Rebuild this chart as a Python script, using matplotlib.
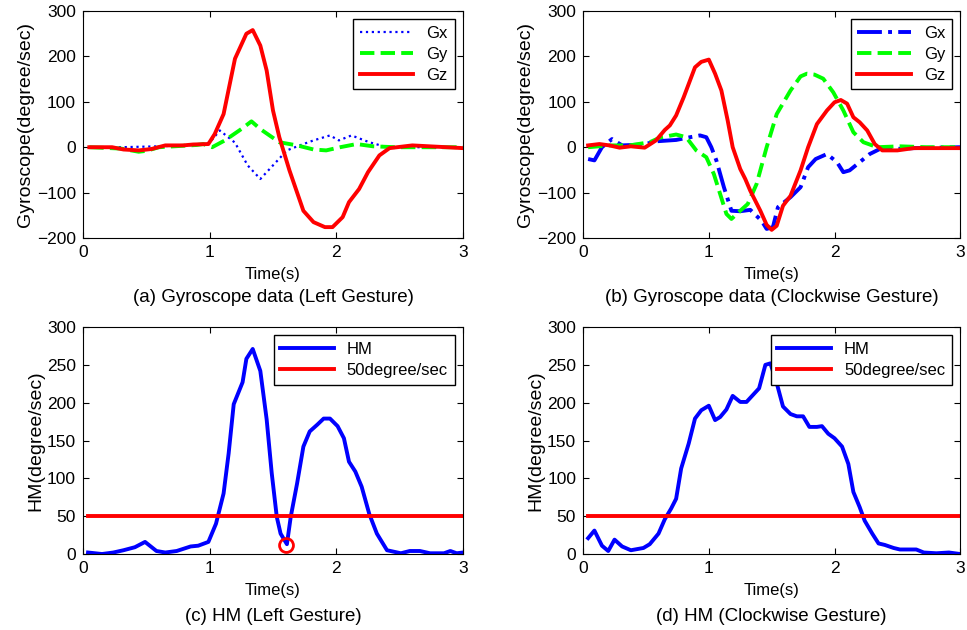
import matplotlib
matplotlib.use('Agg')
import matplotlib.pyplot as plt

plt.rcParams['font.family'] = ['Liberation Sans', 'DejaVu Sans']

# (a) left gesture, gyroscope
a_gx_t = [0.05, 0.3, 0.6, 0.9, 1.0, 1.08, 1.2, 1.3, 1.40, 1.5, 1.61, 1.72, 1.82, 1.95, 2.02, 2.12, 2.26, 2.4, 2.6, 3.0]
a_gx = [0, 0, 2, 5, 10, 37, 10, -40, -70, -40, -7, 5, 15, 26, 15, 26, 11, 0, 0, 0]
a_gy_t = [0.05, 0.3, 0.44, 0.5, 0.6, 0.9, 0.95, 1.02, 1.12, 1.25, 1.33, 1.40, 1.55, 1.69, 1.82, 1.92, 2.03, 2.16, 2.29, 2.47, 3.0]
a_gy = [0, -3, -10, -8, 0, 5, 7, 0, 15, 40, 57, 40, 11, 4, -5, -7, 0, 7, 2, 0, 0]
a_gz_t = [0.05, 0.23, 0.32, 0.44, 0.54, 0.65, 0.79, 0.87, 0.99, 1.04, 1.11, 1.2, 1.29, 1.34, 1.40, 1.45, 1.50, 1.55, 1.63,
          1.74, 1.82, 1.91, 1.97, 2.05, 2.10, 2.18, 2.25, 2.34, 2.42, 2.60, 2.87, 3.0]
a_gz = [0, 0, -5, -7, -4, 4, 4, 6, 7, 29, 73, 195, 250, 258, 224, 169, 81, 22, -51,
        -140, -165, -176, -176, -154, -121, -92, -55, -18, -2, 4, 0, -2]

# (b) clockwise gesture, gyroscope
b_gx_t = [0.04, 0.09, 0.15, 0.23, 0.31, 0.48, 0.58, 0.74, 0.85, 0.93, 0.98, 1.02, 1.06, 1.12, 1.18, 1.25, 1.33, 1.42,
          1.46, 1.51, 1.55, 1.65, 1.73, 1.79, 1.85, 1.94, 2.02, 2.07, 2.12, 2.20, 2.28, 2.36, 2.47, 2.63, 3.0]
b_gx = [-26, -29, 0, 18, 4, 6, 13, 16, 22, 26, 22, 0, -29, -88, -140, -141, -138, -162,
        -180, -176, -132, -110, -88, -44, -26, -15, -33, -55, -51, -33, -15, -4, -4, -2, 0]
b_gy_t = [0.04, 0.21, 0.37, 0.53, 0.61, 0.74, 0.82, 0.90, 0.98, 1.04, 1.09, 1.14, 1.18, 1.25, 1.31, 1.38, 1.46, 1.54,
          1.65, 1.73, 1.78, 1.84, 1.91, 1.99, 2.07, 2.15, 2.23, 2.34, 2.52, 2.73, 3.0]
b_gy = [0, 4, 4, 11, 21, 28, 22, -7, -22, -59, -103, -147, -158, -140, -125, -81, 0, 73,
        125, 156, 162, 160, 151, 121, 81, 33, 11, 0, 2, 0, 0]
b_gz_t = [0.04, 0.13, 0.21, 0.29, 0.38, 0.49, 0.58, 0.65, 0.69, 0.74, 0.80, 0.89, 0.94, 1.0, 1.05, 1.10, 1.15, 1.19,
          1.25, 1.29, 1.33, 1.41, 1.46, 1.50, 1.54, 1.59, 1.65, 1.73, 1.79, 1.86, 1.94, 2.0, 2.05, 2.10, 2.15,
          2.20, 2.26, 2.32, 2.38, 2.50, 2.63, 3.0]
b_gz = [4, 7, 4, -1, 2, -1, 15, 38, 48, 70, 110, 176, 188, 193, 162, 125, 59, 0,
        -48, -70, -96, -140, -171, -182, -173, -129, -107, -51, 0, 51, 81, 99, 104, 96, 66,
        55, 37, 7, -7, -7, -2, -2]

# (c) left gesture, HM
c_t = [0.04, 0.15, 0.24, 0.32, 0.41, 0.49, 0.58, 0.65, 0.74, 0.85, 0.91, 0.99, 1.05, 1.11, 1.15, 1.19, 1.26, 1.29,
       1.34, 1.40, 1.45, 1.49, 1.53, 1.56, 1.61, 1.64, 1.69, 1.74, 1.79, 1.85, 1.90, 1.95, 2.01, 2.06, 2.10,
       2.15, 2.20, 2.26, 2.32, 2.40, 2.51, 2.58, 2.66, 2.74, 2.85, 2.90, 2.95, 3.0]
c_hm = [2, 0, 2, 5, 9, 16, 4, 2, 4, 10, 11, 16, 40, 80, 133, 198, 227, 258,
        271, 242, 178, 107, 49, 27, 13, 49, 93, 142, 162, 171, 179, 179, 169, 153, 122,
        109, 89, 53, 27, 5, 1, 4, 4, 1, 1, 4, 1, 2]
c_min_t = 1.605
c_min = 12

# (d) clockwise gesture, HM
d_t = [0.04, 0.09, 0.15, 0.20, 0.25, 0.31, 0.38, 0.48, 0.53, 0.60, 0.65, 0.70, 0.74, 0.78, 0.84, 0.89, 0.94, 1.0,
       1.05, 1.09, 1.14, 1.19, 1.25, 1.30, 1.35, 1.40, 1.45, 1.49, 1.54, 1.59, 1.65, 1.70, 1.75, 1.80, 1.86,
       1.90, 1.95, 2.00, 2.06, 2.11, 2.15, 2.20, 2.24, 2.30, 2.35, 2.40, 2.47, 2.52, 2.65, 2.71, 2.81, 2.91, 3.0]
d_hm = [21, 31, 11, 4, 19, 10, 5, 8, 13, 27, 46, 60, 73, 113, 146, 179, 190, 196,
        177, 181, 191, 209, 201, 201, 210, 219, 250, 252, 226, 195, 185, 182, 182, 168, 168,
        169, 159, 153, 142, 119, 82, 62, 44, 27, 14, 12, 8, 6, 6, 2, 1, 2, 0]

threshold = 50
captions = ['(a) Gyroscope data (Left Gesture)', '(b) Gyroscope data (Clockwise Gesture)',
            '(c) HM (Left Gesture)', '(d) HM (Clockwise Gesture)']

fig = plt.figure(figsize=(9.67, 6.3), dpi=100)
pos = [[0.0858, 0.6222, 0.393, 0.3603], [0.603, 0.6222, 0.390, 0.3603],
       [0.0858, 0.1206, 0.393, 0.3603], [0.603, 0.1206, 0.390, 0.3603]]
axes = [fig.add_axes(p) for p in pos]

lw = 2.8
ax = axes[0]
ax.plot(a_gx_t, a_gx, ':', color='blue', lw=1.6, label='Gx')
ax.plot(a_gy_t, a_gy, '--', color='#00ff00', lw=lw, label='Gy')
ax.plot(a_gz_t, a_gz, '-', color='red', lw=lw, label='Gz')

ax = axes[1]
ax.plot(b_gx_t, b_gx, '-.', color='blue', lw=lw, label='Gx')
ax.plot(b_gy_t, b_gy, '--', color='#00ff00', lw=lw, label='Gy')
ax.plot(b_gz_t, b_gz, '-', color='red', lw=lw, label='Gz')

ax = axes[2]
ax.plot(c_t, c_hm, '-', color='blue', lw=lw, label='HM')
ax.plot([c_t[0], c_t[-1]], [threshold, threshold], '-', color='red', lw=lw, label='50degree/sec')
ax.plot(c_min_t, c_min, 'o', mfc='none', mec='red', mew=2, ms=10)

ax = axes[3]
ax.plot(d_t, d_hm, '-', color='blue', lw=lw, label='HM')
ax.plot([d_t[0], d_t[-1]], [threshold, threshold], '-', color='red', lw=lw, label='50degree/sec')

for i, ax in enumerate(axes):
    ax.set_xlim(0, 3)
    ax.set_xticks([0, 1, 2, 3])
    if i < 2:
        ax.set_ylim(-200, 300)
        ax.set_yticks([-200, -100, 0, 100, 200, 300])
        ax.set_ylabel('Gyroscope(degree/sec)', fontsize=14, labelpad=2)
    else:
        ax.set_ylim(0, 300)
        ax.set_yticks([0, 50, 100, 150, 200, 250, 300])
        ax.set_ylabel('HM(degree/sec)', fontsize=14, labelpad=2)
    ax.set_xlabel('Time(s)', fontsize=12, labelpad=5)
    ax.tick_params(direction='in', top=True, right=True, labelsize=12.5, length=4, pad=5)
    ax.set_yticklabels([str(v).replace('-', '\u2212') for v in ax.get_yticks().astype(int)])
    leg = ax.legend(loc='upper right', fontsize=12, fancybox=False, edgecolor='black',
                    framealpha=1, handlelength=3.2, labelspacing=0.35, borderaxespad=0.5)
    leg.get_frame().set_linewidth(1.0)
    cx = pos[i][0] + pos[i][2] / 2
    cy = 0.527 if i < 2 else 0.022
    fig.text(cx, cy, captions[i], ha='center', va='center', fontsize=13.5)

fig.savefig('out.png', dpi=100)
